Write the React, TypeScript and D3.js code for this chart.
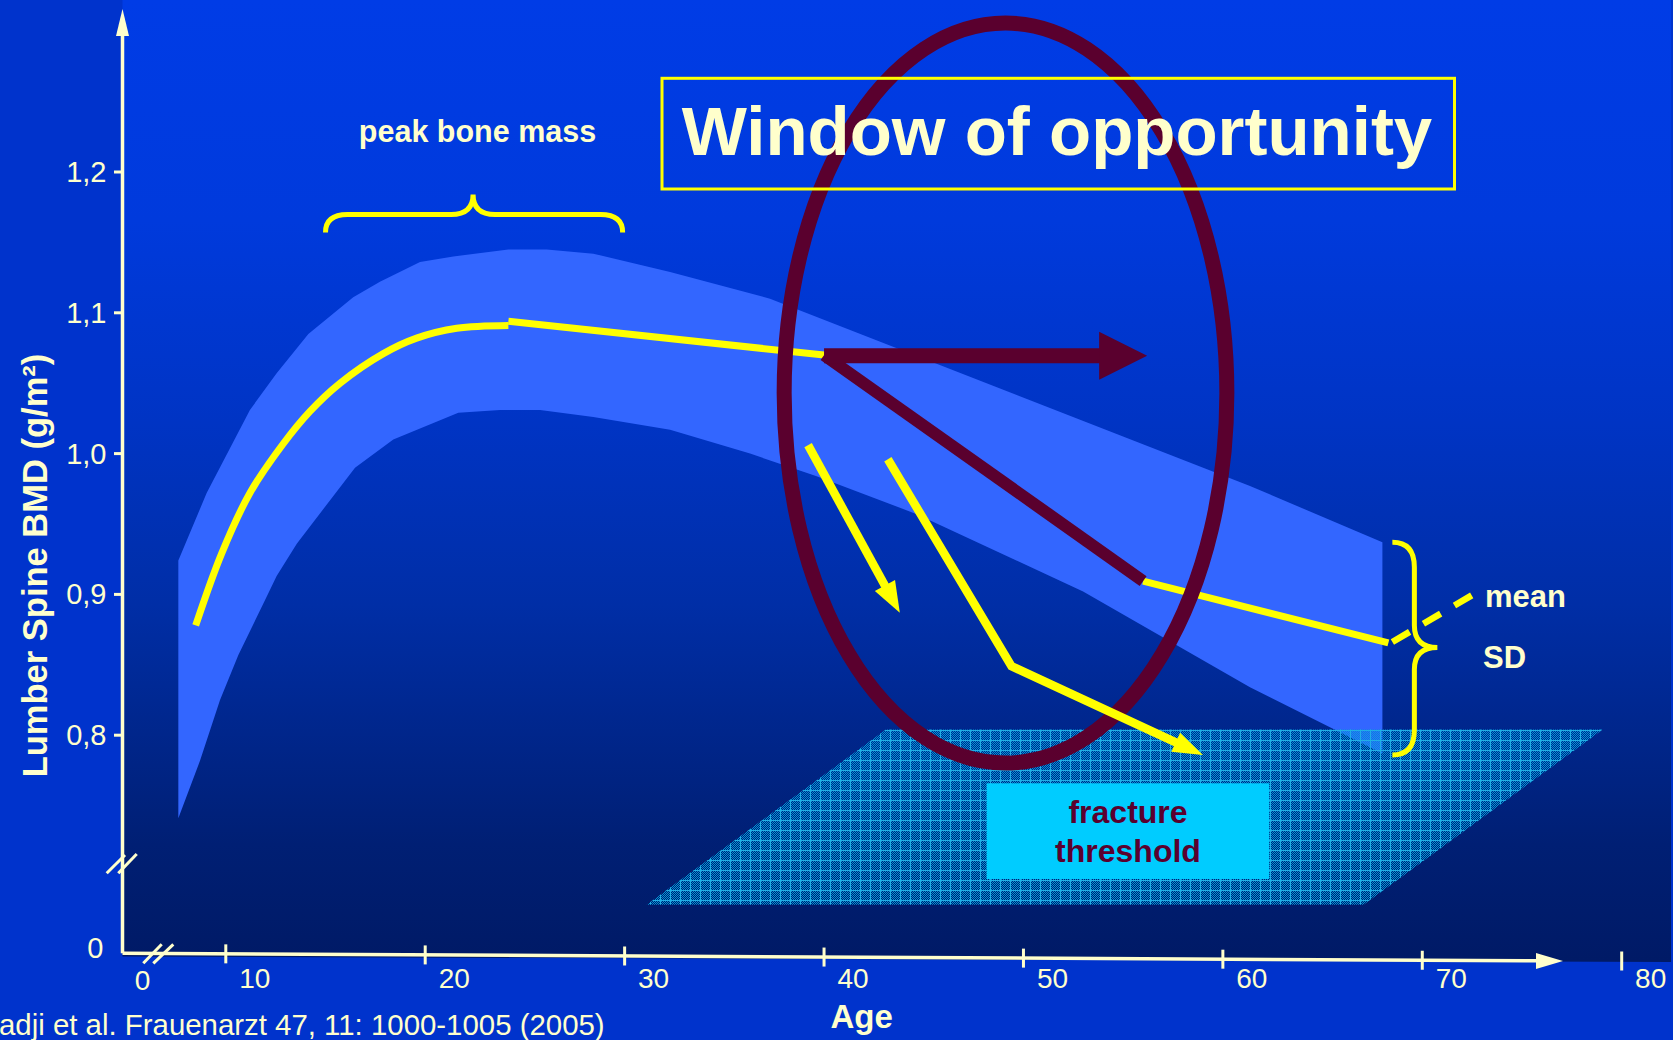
import React from 'react';
import * as d3 from 'd3';

const W = 1673;
const H = 1040;

// Axis ticks
const ageTicks = [10, 20, 30, 40, 50, 60, 70, 80];
const bmdTicks = [0.8, 0.9, 1.0, 1.1, 1.2];
const bmdTickLabels = ['0,8', '0,9', '1,0', '1,1', '1,2'];

// Reference band (mean ± SD): upper and lower edges as [age, BMD]
const bandUpper: [number, number][] = [
  [7.62, 0.924], [9.04, 0.972], [11.21, 1.031], [12.55, 1.057], [14.14, 1.085],
  [16.39, 1.111], [17.73, 1.122], [19.74, 1.136], [21.41, 1.140], [24.17, 1.145],
  [26.09, 1.145], [28.43, 1.142], [32.28, 1.129], [37.29, 1.110], [61.36, 0.977],
  [68.0, 0.937],
];
const bandLower: [number, number][] = [
  [7.62, 0.741], [8.71, 0.782], [9.71, 0.825], [10.63, 0.857], [11.97, 0.896],
  [12.55, 0.913], [13.56, 0.936], [16.48, 0.990], [18.40, 1.010], [21.66, 1.029],
  [23.75, 1.031], [25.76, 1.031], [28.43, 1.026], [32.28, 1.017], [36.29, 1.000],
  [39.63, 0.984], [44.65, 0.957], [52.99, 0.902], [61.36, 0.834], [68.0, 0.787],
];

// Mean BMD: growth phase up to peak bone mass
const meanGrowth: [number, number][] = [
  [8.49, 0.878], [9.79, 0.929], [11.21, 0.972], [12.88, 1.007], [14.22, 1.030],
  [15.73, 1.050], [17.90, 1.071], [19.57, 1.082], [21.58, 1.089], [24.17, 1.091],
];
// Mean BMD: plateau after the peak
const meanPlateau: [number, number][] = [[24.17, 1.094], [40.0, 1.070]];
// Accelerated loss after menopause
const meanLoss: [number, number][] = [[40.0, 1.070], [56.0, 0.9095]];
// Late slower decline
const meanLate: [number, number][] = [[56.0, 0.9095], [68.3, 0.8655]];

// Preserved bone mass (horizontal arrow)
const preserveArrow: [number, number][] = [[40.0, 1.0695], [56.2, 1.0695]];
// Faster loss trajectories
const lossArrowA: [number, number][] = [[39.2, 1.006], [43.8, 0.887]];
const lossArrowB: [number, number][] = [[43.2, 0.996], [49.4, 0.849], [59.0, 0.786]];

// Fracture threshold plane corners
const fracturePlane: [number, number][] = [[43.1, 0.804], [79.05, 0.804], [67.06, 0.6795], [31.1, 0.6795]];

// Window of opportunity ellipse: centre [age, BMD] and radii
const windowCentre: [number, number] = [49.1, 1.043];
const windowRadiusAge = 11.1;
const windowRadiusBmd = 0.2628;

// Brace spans
const peakSpan: [number, number] = [15.0, 29.9];
const peakBraceBmd = 1.157;
const sdSpan: [number, number] = [0.937, 0.786];
const sdBraceAge = 68.5;

const CREAM = '#FFFFCC';
const YELLOW = '#FFFF00';
const MAROON = '#5A002E';
const FONT = '"Liberation Sans", Arial, Helvetica, sans-serif';

function arrowHead(p0: [number, number], p1: [number, number], len: number, half: number) {
  const dx = p1[0] - p0[0];
  const dy = p1[1] - p0[1];
  const d = Math.hypot(dx, dy);
  const ux = dx / d;
  const uy = dy / d;
  const bx = p1[0] - ux * len;
  const by = p1[1] - uy * len;
  const pts = [
    [p1[0], p1[1]],
    [bx - uy * half, by + ux * half],
    [bx + uy * half, by - ux * half],
  ];
  return {
    points: pts.map((p) => p.join(',')).join(' '),
    base: [p1[0] - ux * len * 0.7, p1[1] - uy * len * 0.7] as [number, number],
  };
}

export default function App() {
  const x = d3.scaleLinear().domain([10, 80]).range([225.8, 1621.7]);
  const y = d3.scaleLinear().domain([0.8, 1.2]).range([735.2, 172]);

  const px = (d: [number, number]): [number, number] => [x(d[0]), y(d[1])];
  const straight = d3.line<[number, number]>().x((d) => x(d[0])).y((d) => y(d[1]));
  const smooth = d3
    .line<[number, number]>()
    .x((d) => x(d[0]))
    .y((d) => y(d[1]))
    .curve(d3.curveCatmullRom.alpha(0.5));
  const rawLine = d3.line<[number, number]>();

  const bandPath = straight([...bandUpper, ...bandLower.slice().reverse()]) + 'Z';
  const planePath = straight(fracturePlane) + 'Z';

  // Axes geometry
  const originX = 122.5;
  const originY = 953.3;
  const xAxisEnd = 1563;
  const xAxisEndY = 961;
  const axisYAt = (px0: number) => originY + ((px0 - originX) * (xAxisEndY - originY)) / (xAxisEnd - originX);

  // Yellow loss arrows
  const aPts = lossArrowA.map(px);
  const aHead = arrowHead(aPts[0], aPts[1], 31, 11.5);
  const bPts = lossArrowB.map(px);
  const bHead = arrowHead(bPts[1], bPts[2], 30, 10.5);

  // Maroon horizontal arrow
  const hPts = preserveArrow.map(px);
  const hHead = arrowHead(hPts[0], hPts[1], 48, 24);

  // Braces
  const pl = x(peakSpan[0]);
  const pr = x(peakSpan[1]);
  const pm = (pl + pr) / 2 - 1;
  const pb = y(peakBraceBmd);
  const peakBrace = `M${pl},${pb} Q${pl},${pb - 18} ${pl + 22},${pb - 18} L${pm - 22},${pb - 18} Q${pm},${pb - 18} ${pm},${pb - 38} Q${pm},${pb - 18} ${pm + 22},${pb - 18} L${pr - 22},${pb - 18} Q${pr},${pb - 18} ${pr},${pb}`;

  const st = y(sdSpan[0]);
  const sb = y(sdSpan[1]);
  const sx = x(sdBraceAge);
  const smid = (st + sb) / 2 - 1;
  const sv = sx + 22;
  const sdBrace = `M${sx},${st} Q${sv},${st} ${sv},${st + 25} L${sv},${smid - 22} Q${sv},${smid} ${sv + 23},${smid} Q${sv},${smid} ${sv},${smid + 22} L${sv},${sb - 25} Q${sv},${sb} ${sx},${sb}`;

  // Dither pixels for the threshold plane texture
  const dither: [number, number][] = [];
  for (let i = 1; i < 10; i++) {
    for (let j = 1; j < 10; j++) {
      if ((i + j) % 2 === 0) dither.push([i, j]);
    }
  }

  const ecx = x(windowCentre[0]);
  const ecy = y(windowCentre[1]);
  const erx = x(windowCentre[0] + windowRadiusAge) - ecx;
  const ery = y(windowCentre[1] - windowRadiusBmd) - ecy;

  const meanEnd = px(meanLate[1]);

  return (
    <svg
      width={W}
      height={H}
      viewBox={`0 0 ${W} ${H}`}
      style={{ position: 'fixed', left: 0, top: 0, display: 'block' }}
      fontFamily={FONT}
    >
      <defs>
        <linearGradient id="plotBg" gradientUnits="userSpaceOnUse" x1="0" y1="0" x2="0" y2="960">
          <stop offset="0" stopColor="#003CE6" />
          <stop offset="0.23" stopColor="#003ADC" />
          <stop offset="0.44" stopColor="#0034C4" />
          <stop offset="0.63" stopColor="#002EA6" />
          <stop offset="0.88" stopColor="#001F74" />
          <stop offset="1" stopColor="#001A66" />
        </linearGradient>
        <pattern id="grid" patternUnits="userSpaceOnUse" x="0" y="0" width="10" height="10">
          {dither.map(([i, j]) => (
            <rect key={`${i}-${j}`} x={i} y={j} width={1} height={1} fill="#0096D8" />
          ))}
          <rect x={0} y={0} width={10} height={1} fill="#22AEE6" />
          <rect x={0} y={0} width={1} height={10} fill="#22AEE6" />
        </pattern>
      </defs>

      {/* slide background and plot area */}
      <rect x={0} y={0} width={W} height={H} fill="#0033CC" />
      <polygon points={`${originX},0 1671,0 1671,962 ${originX},956.5`} fill="url(#plotBg)" />

      {/* mean ± SD band */}
      <path d={bandPath} fill="#3366FF" />

      {/* fracture threshold plane */}
      <path d={planePath} fill="url(#grid)" />

      {/* mean curve */}
      <path d={smooth(meanGrowth) ?? ''} fill="none" stroke={YELLOW} strokeWidth={7} />
      <path d={straight(meanPlateau) ?? ''} fill="none" stroke={YELLOW} strokeWidth={7} />
      <path d={straight(meanLate) ?? ''} fill="none" stroke={YELLOW} strokeWidth={7} />
      <path
        d={rawLine([meanEnd, [meanEnd[0] + 80, meanEnd[1] - 47]]) ?? ''}
        fill="none"
        stroke={YELLOW}
        strokeWidth={6.5}
        strokeDasharray="20 16"
        transform="translate(4,-1)"
      />

      {/* accelerated loss and preserved mass */}
      <path d={straight(meanLoss) ?? ''} fill="none" stroke={MAROON} strokeWidth={12} />
      <path d={rawLine([hPts[0], hHead.base]) ?? ''} fill="none" stroke={MAROON} strokeWidth={15} />
      <polygon points={hHead.points} fill={MAROON} />

      {/* window of opportunity */}
      <ellipse cx={ecx} cy={ecy} rx={erx} ry={ery} fill="none" stroke={MAROON} strokeWidth={15} />

      {/* faster loss arrows */}
      <path d={rawLine([aPts[0], aHead.base]) ?? ''} fill="none" stroke={YELLOW} strokeWidth={8.5} />
      <polygon points={aHead.points} fill={YELLOW} />
      <path
        d={rawLine([bPts[0], bPts[1], bHead.base]) ?? ''}
        fill="none"
        stroke={YELLOW}
        strokeWidth={8.5}
        strokeLinejoin="miter"
      />
      <polygon points={bHead.points} fill={YELLOW} />

      {/* braces */}
      <path d={peakBrace} fill="none" stroke={YELLOW} strokeWidth={5} />
      <path d={sdBrace} fill="none" stroke={YELLOW} strokeWidth={5} />

      {/* labels */}
      <text x={477.5} y={142} textAnchor="middle" fontSize={30.5} fontWeight="bold" fill={CREAM}>
        peak bone mass
      </text>
      <rect x={662} y={78.3} width={792.5} height={110.7} fill="none" stroke={YELLOW} strokeWidth={3} />
      <text x={1057} y={155} textAnchor="middle" fontSize={69} fontWeight="bold" fill={CREAM}>
        Window of opportunity
      </text>
      <text x={1485} y={607} fontSize={31} fontWeight="bold" fill={CREAM}>
        mean
      </text>
      <text x={1483} y={668} fontSize={31} fontWeight="bold" fill={CREAM}>
        SD
      </text>

      <rect x={986.6} y={783.3} width={282.6} height={95.7} fill="#00CCFF" />
      <text x={1128} y={822.7} textAnchor="middle" fontSize={32} fontWeight="bold" fill={MAROON}>
        fracture
      </text>
      <text x={1128} y={861.7} textAnchor="middle" fontSize={32} fontWeight="bold" fill={MAROON}>
        threshold
      </text>

      {/* y axis */}
      <line x1={originX} y1={originY} x2={originX} y2={32} stroke={CREAM} strokeWidth={3.5} />
      <polygon points={`${originX},9 ${originX - 6.5},36 ${originX + 6.5},36`} fill={CREAM} />
      {bmdTicks.map((t, i) => (
        <g key={t}>
          <line x1={originX - 8.5} x2={originX} y1={y(t)} y2={y(t)} stroke={CREAM} strokeWidth={3} />
          <text x={106.5} y={y(t) + 10} textAnchor="end" fontSize={29} fill={CREAM}>
            {bmdTickLabels[i]}
          </text>
        </g>
      ))}
      <text x={103.5} y={958} textAnchor="end" fontSize={29} fill={CREAM}>
        0
      </text>
      <line x1={106.7} y1={873.3} x2={125} y2={855} stroke={CREAM} strokeWidth={3} />
      <line x1={118.3} y1={873.3} x2={136.7} y2={854} stroke={CREAM} strokeWidth={3} />

      {/* x axis */}
      <line x1={originX} y1={originY} x2={xAxisEnd - 24} y2={axisYAt(xAxisEnd - 24)} stroke={CREAM} strokeWidth={3.5} />
      <polygon
        points={`${xAxisEnd},${xAxisEndY} ${xAxisEnd - 27},${xAxisEndY - 8} ${xAxisEnd - 27},${xAxisEndY + 8}`}
        fill={CREAM}
      />
      {ageTicks.map((t) => (
        <g key={t}>
          <line
            x1={x(t)}
            x2={x(t)}
            y1={axisYAt(Math.min(x(t), xAxisEnd)) - 9.5}
            y2={axisYAt(Math.min(x(t), xAxisEnd)) + 9.5}
            stroke={CREAM}
            strokeWidth={3}
          />
          <text x={x(t) + 29} y={988} textAnchor="middle" fontSize={28} fill={CREAM}>
            {t}
          </text>
        </g>
      ))}
      <text x={142.5} y={990} textAnchor="middle" fontSize={28} fill={CREAM}>
        0
      </text>
      <line x1={143.3} y1={963.3} x2={161.7} y2={944.3} stroke={CREAM} strokeWidth={3} />
      <line x1={153.3} y1={963.3} x2={173.3} y2={944.3} stroke={CREAM} strokeWidth={3} />

      {/* axis titles */}
      <text x={861.7} y={1028} textAnchor="middle" fontSize={33} fontWeight="bold" fill={CREAM}>
        Age
      </text>
      <text
        transform="translate(47,565.5) rotate(-90)"
        textAnchor="middle"
        fontSize={34.5}
        fontWeight="bold"
        fill={CREAM}
      >
        Lumber Spine BMD (g/m²)
      </text>

      {/* source */}
      <text x={-1} y={1035} fontSize={29.4} fill={CREAM}>
        adji et al. Frauenarzt 47, 11: 1000-1005 (2005)
      </text>
    </svg>
  );
}
